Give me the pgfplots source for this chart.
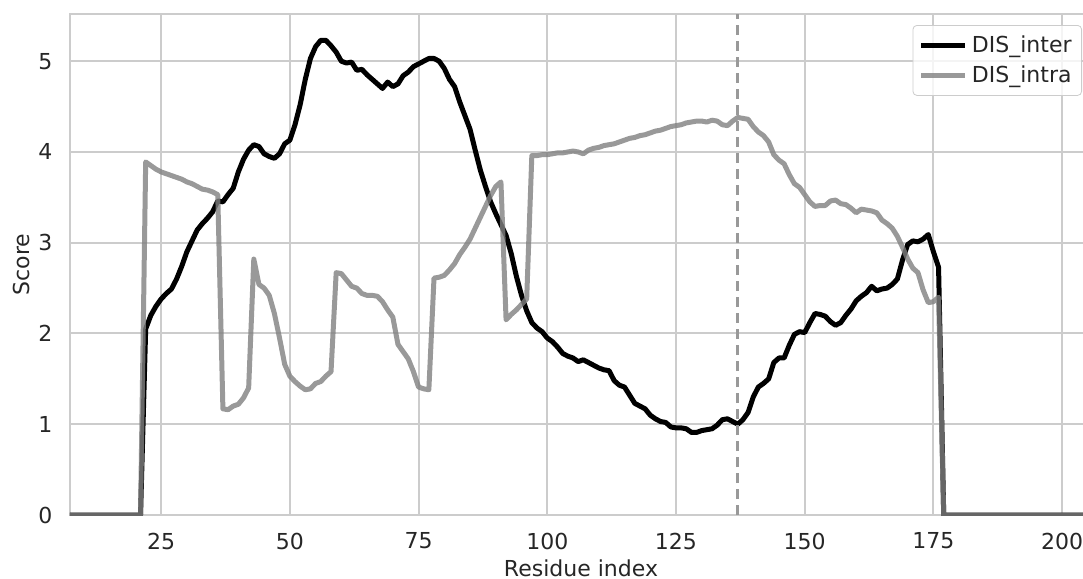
\documentclass[border=0pt]{standalone}
\usepackage{fontspec}
\setmainfont{DejaVu Sans}
\usepackage{pgfplots}
\usepackage{pgfplotstable}
\pgfplotsset{compat=1.18}
\definecolor{txt}{HTML}{262626}
\definecolor{gridc}{HTML}{CCCCCC}
\pgfplotstableread{
x inter intra
1 0 0
21 0 0
22 2.05 3.89
23 2.20 3.85
24 2.30 3.81
25 2.38 3.78
26 2.44 3.76
27 2.49 3.74
28 2.60 3.72
29 2.74 3.70
30 2.90 3.67
31 3.02 3.65
32 3.14 3.62
33 3.21 3.59
34 3.27 3.58
35 3.34 3.56
36 3.46 3.53
37 3.45 1.17
38 3.53 1.16
39 3.60 1.20
40 3.78 1.22
41 3.92 1.29
42 4.02 1.40
43 4.08 2.82
44 4.06 2.54
45 3.98 2.50
46 3.95 2.42
47 3.93 2.22
48 3.98 1.95
49 4.09 1.66
50 4.13 1.53
51 4.30 1.47
52 4.52 1.42
53 4.80 1.38
54 5.03 1.39
55 5.16 1.45
56 5.23 1.47
57 5.23 1.53
58 5.17 1.58
59 5.10 2.67
60 5.00 2.66
61 4.98 2.59
62 4.99 2.52
63 4.90 2.50
64 4.91 2.44
65 4.85 2.42
66 4.80 2.42
67 4.75 2.41
68 4.70 2.35
69 4.77 2.26
70 4.72 2.18
71 4.75 1.88
72 4.84 1.80
73 4.88 1.72
74 4.94 1.58
75 4.97 1.41
76 5.00 1.39
77 5.03 1.38
78 5.03 2.61
79 5.00 2.62
80 4.92 2.64
81 4.80 2.70
82 4.72 2.77
83 4.55 2.87
84 4.40 2.95
85 4.25 3.04
86 4.02 3.16
87 3.80 3.28
88 3.62 3.40
89 3.45 3.52
90 3.32 3.62
91 3.20 3.67
92 3.08 2.15
93 2.88 2.21
94 2.63 2.26
95 2.42 2.32
96 2.25 2.38
97 2.12 3.96
98 2.06 3.96
99 2.02 3.97
100 1.95 3.97
101 1.91 3.98
102 1.85 3.99
103 1.78 3.99
104 1.75 4.00
105 1.73 4.01
106 1.69 4.00
107 1.71 3.98
108 1.68 4.02
109 1.65 4.04
110 1.62 4.05
111 1.60 4.07
112 1.59 4.08
113 1.48 4.09
114 1.43 4.11
115 1.41 4.13
116 1.32 4.15
117 1.23 4.16
118 1.20 4.18
119 1.17 4.19
120 1.10 4.21
121 1.06 4.23
122 1.03 4.24
123 1.02 4.26
124 0.97 4.28
125 0.96 4.29
126 0.96 4.30
127 0.95 4.32
128 0.91 4.33
129 0.91 4.34
130 0.93 4.34
131 0.94 4.33
132 0.95 4.35
133 0.99 4.34
134 1.05 4.30
135 1.06 4.29
136 1.03 4.34
137 1.00 4.38
138 1.05 4.37
139 1.13 4.36
140 1.30 4.28
141 1.41 4.22
142 1.45 4.18
143 1.50 4.11
144 1.68 3.97
145 1.73 3.91
146 1.73 3.87
147 1.87 3.75
148 1.99 3.65
149 2.02 3.61
150 2.01 3.53
151 2.12 3.45
152 2.22 3.40
153 2.21 3.41
154 2.19 3.41
155 2.13 3.46
156 2.09 3.47
157 2.12 3.43
158 2.20 3.42
159 2.27 3.38
160 2.36 3.33
161 2.41 3.37
162 2.45 3.36
163 2.52 3.35
164 2.47 3.33
165 2.49 3.25
166 2.50 3.21
167 2.54 3.16
168 2.60 3.07
169 2.81 2.95
170 2.98 2.82
171 3.02 2.72
172 3.01 2.67
173 3.04 2.48
174 3.09 2.34
175 2.90 2.35
176 2.73 2.40
177 0 0
210 0 0
}\datatable
\begin{document}
\fontsize{11}{13.2}\selectfont
\begin{tikzpicture}
\begin{axis}[
  scale only axis,
  width=511pt, height=250.5pt,
  xmin=7.3, xmax=205.8,
  ymin=0, ymax=5.52,
  xtick={25,50,75,100,125,150,175,200},
  ytick={0,1,2,3,4,5},
  major tick length=0pt,
  grid=major,
  major grid style={draw=gridc, line width=1pt},
  axis line style={draw=gridc, line width=1.25pt},
  tick label style={text=txt, font=\fontsize{11}{13.2}\selectfont},
  /pgf/number format/assume math mode=true,
  xticklabel style={yshift=-5pt},
  yticklabel style={xshift=-5pt},
  label style={text=txt, font=\fontsize{11}{13.2}\selectfont},
  xlabel={Residue index},
  ylabel={Score},
  xlabel style={at={(axis description cs:0.5,-0.122)}, anchor=base},
  ylabel style={at={(axis description cs:-0.047,0.5)}, anchor=center},
  legend style={at={(1,1)}, anchor=north east, xshift=-5pt, yshift=-5.5pt,
    draw=gridc, fill=white, fill opacity=0.8, text opacity=1,
    rounded corners=2pt, font=\fontsize{11}{13.2}\selectfont, text=txt,
    row sep=1pt, inner sep=3pt},
  legend cell align=left,
  legend image code/.code={\draw[#1] (0pt,0pt) -- (22pt,0pt);},
]
\addplot[black, line width=2.5pt, line join=round] table[x=x, y=inter] {\datatable};
\addlegendentry{DIS\_inter}
\addplot[gray, opacity=0.8, line width=2.5pt, line join=round] table[x=x, y=intra] {\datatable};
\addlegendentry{DIS\_intra}
\addplot[forget plot, color=black!40, line width=1.3pt, dash pattern=on 5pt off 3pt] coordinates {(137,0) (137,5.52)};
\end{axis}
\pgfresetboundingbox
\path (-35pt,-32pt) rectangle (506.5pt,257.5pt);
\end{tikzpicture}
\end{document}
